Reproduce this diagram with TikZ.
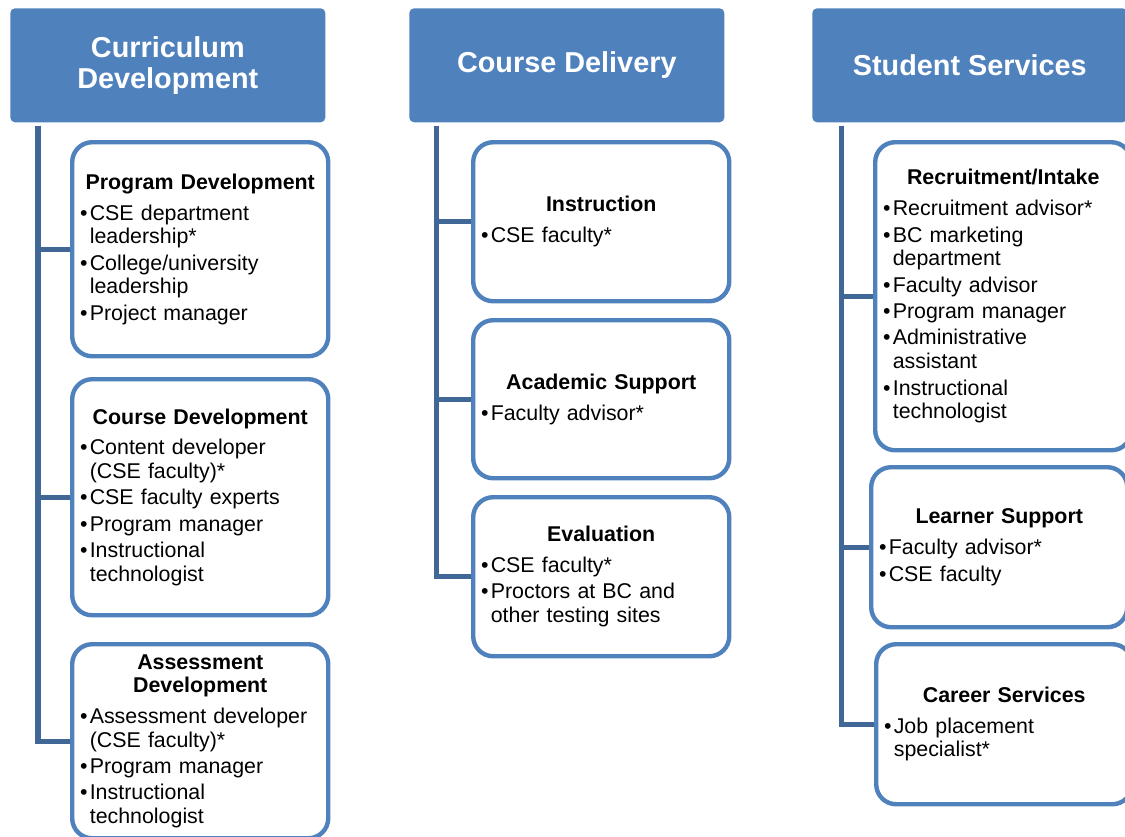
\documentclass[tikz,border=0pt]{standalone}
\usepackage{fontspec}
\setmainfont{Liberation Sans}
\usetikzlibrary{positioning}

\definecolor{headblue}{RGB}{79,129,189}
\definecolor{linkblue}{RGB}{64,103,150}

% box heading and bullet lines
\newcommand{\ttl}[1]{{\centering\bfseries #1\par}\vspace{3pt}\setlength{\parskip}{2pt}}
\newcommand{\bul}[1]{\noindent\hangindent=0.45em\hangafter=1\makebox[0.45em][l]{\textbullet}#1\par}

\begin{document}
\begin{tikzpicture}[x=0.025cm,y=-0.025cm,
    head/.style={fill=headblue, rounded corners=0.12cm, anchor=north west,
      minimum width=7.875cm, minimum height=2.85cm, text=white, align=center,
      font=\fontsize{20.5}{22}\selectfont\bfseries},
    role/.style={draw=headblue, line width=0.11cm, fill=white, rounded corners=0.5cm,
      anchor=north west, text width=6.0cm, inner xsep=0.2cm, align=left,
      font=\fontsize{15.2}{16.8}\selectfont},
    link/.style={draw=linkblue, line width=0.125cm}]
  \clip (0,0) rectangle (1125,836);

  % column heads
  \node[head] (cur) at (10,8) {Curriculum\\Development};
  \node[head] (del) at (409,8) {Course Delivery};
  \node[head] (stu) at (812,8) {Student Services};

  % curriculum development
  \node[role, minimum height=5.35cm] (prog) at (70,140) {\ttl{Program Development}
    \bul{CSE department\newline leadership*}
    \bul{College/university\newline leadership}
    \bul{Project manager}};
  \node[role, minimum height=5.9cm] (cdev) at (70,377) {\ttl{Course Development}
    \bul{Content developer\newline (CSE faculty)*}
    \bul{CSE faculty experts}
    \bul{Program manager}
    \bul{Instructional\newline technologist}};
  \node[role, minimum height=4.85cm] (adev) at (70,642) {\ttl{Assessment\\Development}
    \bul{Assessment developer\newline (CSE faculty)*}
    \bul{Program manager}
    \bul{Instructional\newline technologist}};

  % course delivery
  \node[role, minimum height=3.975cm] (instr) at (471,140) {\ttl{Instruction}
    \bul{CSE faculty*}};
  \node[role, minimum height=3.95cm] (acad) at (471,318) {\ttl{Academic Support}
    \bul{Faculty advisor*}};
  \node[role, minimum height=3.975cm] (eval) at (471,495) {\ttl{Evaluation}
    \bul{CSE faculty*}
    \bul{Proctors at BC and\newline other testing sites}};

  % student services
  \node[role, minimum height=7.7cm] (recr) at (873,140) {\ttl{Recruitment/Intake}
    \bul{Recruitment advisor*}
    \bul{BC marketing\newline department}
    \bul{Faculty advisor}
    \bul{Program manager}
    \bul{Administrative\newline assistant}
    \bul{Instructional\newline technologist}};
  \node[role, minimum height=4.0cm] (lsup) at (869,465) {\ttl{Learner Support}
    \bul{Faculty advisor*}
    \bul{CSE faculty}};
  \node[role, minimum height=4.0cm] (career) at (874,642) {\ttl{Career Services}
    \bul{Job placement\newline specialist*}};

  % trunks and branches
  \draw[link] (cur.south west) ++(28,3) |- (prog.west);
  \draw[link] (cur.south west) ++(28,3) |- (cdev.west);
  \draw[link] (cur.south west) ++(28,3) |- (adev.west);
  \draw[link] (del.south west) ++(27,3) |- (instr.west);
  \draw[link] (del.south west) ++(27,3) |- (acad.west);
  \draw[link] (del.south west) ++(27,3) |- (eval.west);
  \draw[link] (stu.south west) ++(29,3) |- (recr.west);
  \draw[link] (stu.south west) ++(29,3) |- (lsup.west);
  \draw[link] (stu.south west) ++(29,3) |- (career.west);
\end{tikzpicture}
\end{document}
